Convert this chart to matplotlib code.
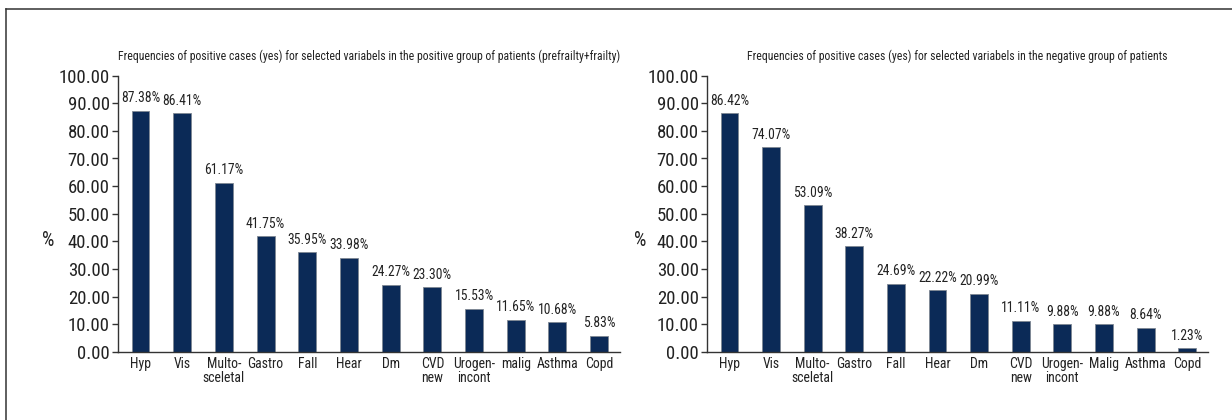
import matplotlib
matplotlib.use("Agg")
import matplotlib.pyplot as plt
from matplotlib.lines import Line2D
from matplotlib import font_manager as fm

categories_pos = ["Hyp", "Vis", "Multo-\nsceletal", "Gastro", "Fall", "Hear", "Dm",
                  "CVD\nnew", "Urogen-\nincont", "malig", "Asthma", "Copd"]
values_pos = [87.38, 86.41, 61.17, 41.75, 35.95, 33.98, 24.27, 23.30, 15.53, 11.65, 10.68, 5.83]

categories_neg = ["Hyp", "Vis", "Multo-\nsceletal", "Gastro", "Fall", "Hear", "Dm",
                  "CVD\nnew", "Urogen-\nincont", "Malig", "Asthma", "Copd"]
values_neg = [86.42, 74.07, 53.09, 38.27, 24.69, 22.22, 20.99, 11.11, 9.88, 9.88, 8.64, 1.23]

title_pos = "Frequencies of positive cases (yes) for selected variabels in the positive group of patients (prefrailty+frailty)"
title_neg = "Frequencies of positive cases (yes) for selected variabels in the negative group of patients"
yticks = [0, 10, 20, 30, 40, 50, 60, 70, 80, 90, 100]


# ---- pick a condensed/narrow sans font if one is installed ----
def pick_font():
    cands = []
    for f in fm.fontManager.ttflist:
        n = (f.name + " " + f.fname).lower()
        if ("condensed" in n or "narrow" in n) and not any(
                k in n for k in ["bold", "italic", "oblique", "mono", "serif", "light", "thin",
                                 "black", "medium", "semi", "extra"]):
            cands.append(f.fname)
    pref = ["robotocondensed", "opensans_condensed", "opensanscondensed", "narrow", "dejavusanscondensed"]
    for p in pref:
        for c in cands:
            if p in c.lower().replace("-", "").replace(" ", ""):
                return fm.FontProperties(fname=c)
    if cands:
        return fm.FontProperties(fname=cands[0])
    for fam in ["Roboto", "Lato", "Noto Sans", "DejaVu Sans"]:
        try:
            path = fm.findfont(fm.FontProperties(family=fam), fallback_to_default=False)
            return fm.FontProperties(fname=path)
        except Exception:
            continue
    return fm.FontProperties(family="DejaVu Sans")


base_fp = pick_font()

W, H = 1232, 420
fig = plt.figure(figsize=(W / 100, H / 100), dpi=100)
renderer = fig.canvas.get_renderer()


def fitted(sample, target_px, grow=1.0, max_size=30):
    fp = base_fp.copy()
    fp.set_size(10)
    w, h, d = renderer.get_text_width_height_descent(sample, fp, ismath=False)
    fp = base_fp.copy()
    fp.set_size(min(max_size, 10 * target_px / w * grow))
    return fp


fp_tick = fitted("100.00", 44, 1.15)
fp_cat = fitted("Asthma", 39, 1.06)
fp_val = fitted("15.53%", 36, 1.08)
fp_title = fitted(title_pos, 496, 1.0)
fp_pct = fitted("100.00", 44, 1.2)

bar_color = "#0b2a57"
text_color = "#222222"


def px_axes(x0, x1, ytop, ybot):
    return [x0 / W, 1 - ybot / H, (x1 - x0) / W, (ybot - ytop) / H]


def draw(ax, cats, vals, title):
    xs = list(range(len(cats)))
    ax.bar(xs, vals, width=0.43, color=bar_color, edgecolor="#7f8793", linewidth=0.6, zorder=2)
    ax.set_ylim(0, 100)
    ax.set_xlim(-0.54, 11.5)
    ax.set_yticks(yticks)
    ax.set_yticklabels([f"{v:.2f}" for v in yticks], color=text_color)
    for t in ax.get_yticklabels():
        t.set_fontproperties(fp_tick)
    ax.set_xticks(xs)
    ax.set_xticklabels(cats, color=text_color, linespacing=1.0)
    for t in ax.get_xticklabels():
        t.set_fontproperties(fp_cat)
    ax.tick_params(axis="x", length=0, pad=4)
    ax.tick_params(axis="y", length=4, width=1, color="#333333", pad=2)
    for s in ["top", "right"]:
        ax.spines[s].set_visible(False)
    for s in ["left", "bottom"]:
        ax.spines[s].set_color("#333333")
        ax.spines[s].set_linewidth(1.0)
    for x, v in zip(xs, vals):
        ax.annotate(f"{v:.2f}%", (x, v), xytext=(0, 4), textcoords="offset points",
                    ha="center", va="bottom", color=text_color, fontproperties=fp_val)
    ax.set_title(title, color=text_color, pad=11, fontproperties=fp_title)


ax1 = fig.add_axes(px_axes(118, 620, 75.7, 351.7))
draw(ax1, categories_pos, values_pos, title_pos)
ax2 = fig.add_axes(px_axes(707, 1208, 75.7, 351.7))
draw(ax2, categories_neg, values_neg, title_neg)

fig.text(48 / W, 1 - 240 / H, "%", color=text_color, ha="center", va="center", fontproperties=fp_pct)
fig.text(640 / W, 1 - 240 / H, "%", color=text_color, ha="center", va="center", fontproperties=fp_pct)

# frame lines (top and left)
fig.add_artist(Line2D([6 / W, 1.0], [1 - 9 / H, 1 - 9 / H], transform=fig.transFigure,
                      color="#333333", linewidth=1.1))
fig.add_artist(Line2D([6 / W, 6 / W], [1 - 9 / H, 0.0], transform=fig.transFigure,
                      color="#333333", linewidth=1.1))

fig.savefig("out.png", dpi=100)
